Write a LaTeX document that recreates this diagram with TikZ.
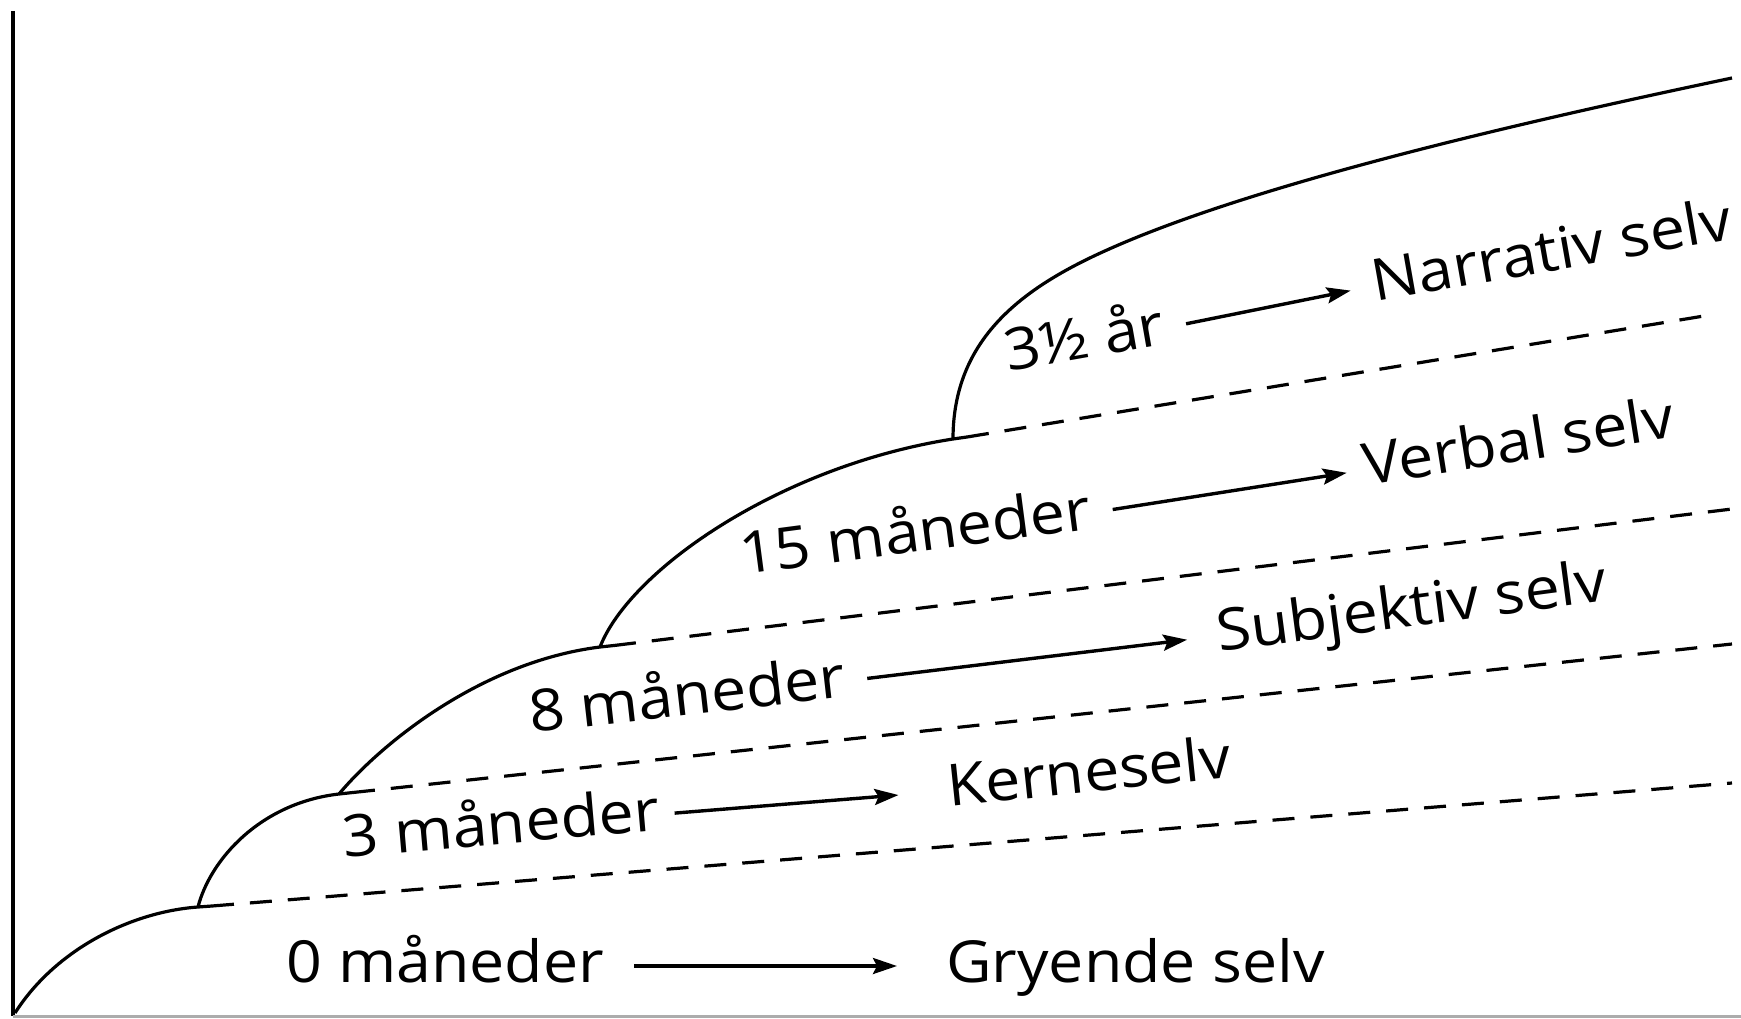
\documentclass[tikz,border=0pt]{standalone}
\usepackage{fontspec}
\setmainfont[FakeStretch=1.08]{Open Sans}
\usetikzlibrary{arrows.meta}
\begin{document}
\begin{tikzpicture}[x=1pt,y=-1pt,
  lbl/.style={inner sep=0pt, anchor=base west, text height=32pt, text depth=0pt,
    font=\fontsize{58}{70}\selectfont},
  curve/.style={line width=3.2pt},
  divider/.style={line width=3.2pt, dash pattern=on 22pt off 16pt},
  arr/.style={line width=3.4pt, -{Stealth[length=24pt,width=16pt,inset=4pt]}},
]
\useasboundingbox (0,0) rectangle (1741,1019);

% axes
\draw[line width=3.2pt] (13,11) -- (13,1016);
\draw[line width=3pt, gray!65] (13,1016.5) -- (1741,1016.5);

% junction points of the growth curve
\coordinate (j0) at (15,1013);
\coordinate (j1) at (198,907);  \coordinate (e1) at (212,906);
\coordinate (j2) at (339,794);  \coordinate (e2) at (353,792.5);
\coordinate (j3) at (600,647);  \coordinate (e3) at (614,645.5);
\coordinate (j4) at (953,439);  \coordinate (e4) at (967,437);
\coordinate (bend) at (1107,250);
\coordinate (top) at (1732,78);
\coordinate (d1) at (1732,783);
\coordinate (d2) at (1732,644);
\coordinate (d3) at (1732,509);
\coordinate (d4) at (1704,316);

% curve segments
\draw[curve] (j0) .. controls (55,950) and (130,912) .. (j1) -- (e1);
\draw[curve] (j1) .. controls (210,860) and (260,803) .. (j2) -- (e2);
\draw[curve] (j2) .. controls (380,745) and (480,662) .. (j3) -- (e3);
\draw[curve] (j3) .. controls (630,570) and (780,466) .. (j4) -- (e4);
\draw[curve] (j4) .. controls (953,339) and (1022,288) .. (bend)
             .. controls (1257,182.5) and (1532,120) .. (top);

% dashed boundaries between the layers
\draw[divider] (e1) -- (d1);
\draw[divider] (e2) -- (d2);
\draw[divider] (e3) -- (d3);
\draw[divider] (e4) -- (d4);

% labels
\node[lbl] (m0) at (286,982) {0 måneder};
\node[lbl] (s0) at (946,982) {Gryende selv};
\node[lbl, rotate=5] (m1) at (344,858) {3 måneder};
\node[lbl, rotate=6] (s1) at (949,807) {Kerneselv};
\node[lbl, rotate=6.5] (m2) at (531,733) {8 måneder};
\node[lbl, rotate=7.5] (s2) at (1219,652) {Subjektiv selv};
\node[lbl, rotate=7.5] (m3) at (742,575) {15 måneder};
\node[lbl, rotate=9] (s3) at (1366,486) {Verbal selv};
\node[lbl, rotate=10] (m4) at (1008,372) {3½ år};
\node[lbl, rotate=10] (s4) at (1375,302) {Narrativ selv};

% arrows from age to self
\draw[arr, shorten <=30pt, shorten >=49pt] (m0.east) -- (s0.west);
\draw[arr, shorten <=15pt, shorten >=49pt] (m1.east) -- (s1.west);
\draw[arr, shorten <=22pt, shorten >=30pt] (m2.east) -- (s2.west);
\draw[arr, shorten <=22pt, shorten >=17pt] (m3.east) -- (s3.west);
\draw[arr, shorten <=22pt, shorten >=22pt] (m4.east) -- (s4.west);
\end{tikzpicture}
\end{document}
